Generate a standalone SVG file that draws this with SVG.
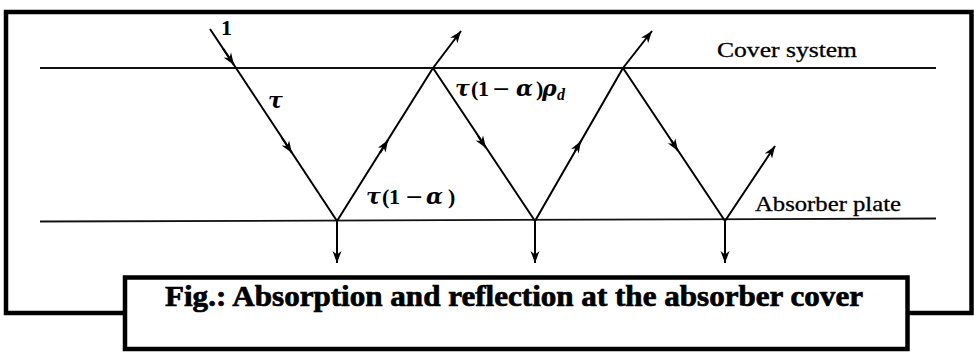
<svg xmlns="http://www.w3.org/2000/svg" width="974" height="353" viewBox="0 0 974 353">
  <style>
    .frame { fill: #fff; stroke: #000; stroke-width: 4.5; }
    .surf { fill: none; stroke: #111; stroke-width: 1.8; }
    .ray { fill: none; stroke: #000; stroke-width: 2; }
    .arr { fill: none; stroke: #000; stroke-width: 2; marker-end: url(#ah); }
    .lbl { font-family: "Liberation Serif", "Times New Roman", serif; fill: #000; stroke: #000; stroke-width: 0.3; }
    .math { font-family: "Liberation Serif", "Times New Roman", serif; fill: #000; font-size: 22px; font-weight: bold; }
    .it { font-style: italic; }
    .gk { font-family: "DejaVu Serif", "Liberation Serif", serif; font-style: italic; font-size: 22px; }
    .mn { font-family: "DejaVu Serif", "Liberation Serif", serif; font-style: normal; font-weight: normal; }
    .cap { font-family: "Liberation Serif", "Times New Roman", serif; font-weight: bold; font-size: 29px; fill: #000; stroke: #000; stroke-width: 0.7; }
  </style>
  <defs>
    <marker id="ah" viewBox="-13 -6 14 12" refX="0" refY="0" markerWidth="14" markerHeight="12" markerUnits="userSpaceOnUse" orient="auto">
      <path d="M0,0 L-12,-4.5 L-8.5,0 L-12,4.5 Z" fill="#000"/>
    </marker>
  </defs>
  <rect width="974" height="353" fill="#fff"/>

  <g id="outer-frame">
    <rect class="frame" x="6" y="12" width="965.5" height="301"/>
  </g>

  <g id="cover-system">
    <line class="surf" x1="40" y1="68" x2="936" y2="68"/>
    <text class="lbl" x="717" y="57" font-size="21" textLength="140" lengthAdjust="spacingAndGlyphs">Cover system</text>
  </g>

  <g id="absorber-plate">
    <path class="surf" d="M40,221.5 L936,218.5"/>
    <text class="lbl" x="755" y="211" font-size="21" textLength="146" lengthAdjust="spacingAndGlyphs">Absorber plate</text>
  </g>

  <g id="connectors">
    <line class="ray" x1="210" y1="29" x2="236" y2="68"/>
    <line class="ray" x1="236" y1="68" x2="337" y2="221"/>
    <line class="ray" x1="337" y1="221" x2="433" y2="68"/>
    <line class="ray" x1="433" y1="68" x2="535" y2="221"/>
    <line class="ray" x1="535" y1="221" x2="623" y2="68"/>
    <line class="ray" x1="623" y1="68" x2="725" y2="221"/>
    <path class="arr" d="M433,68 L461,31"/>
    <path class="arr" d="M623,68 L652,31"/>
    <path class="arr" d="M725,221 L775,146"/>
    <path class="arr" d="M337,221 L337,263"/>
    <path class="arr" d="M535,221 L535,263"/>
    <path class="arr" d="M725,221 L725,263"/>
    <path class="arr" d="M223,48.5 L234,65"/>
    <path class="arr" d="M282,138 L292,153"/>
    <path class="arr" d="M380,153 L388,140"/>
    <path class="arr" d="M478,136 L486,148"/>
    <path class="arr" d="M575,151 L581,141"/>
    <path class="arr" d="M671,140 L678,151"/>
  </g>

  <g id="labels">
    <text class="math" x="221" y="35" font-size="17">1</text>
    <text class="math gk" x="268" y="108">τ</text>
    <text class="math" y="204"><tspan class="gk" x="366">τ</tspan><tspan x="382">(</tspan><tspan x="389">1</tspan><tspan class="mn" x="405">−</tspan><tspan class="gk" x="426">α</tspan><tspan x="448">)</tspan></text>
    <text class="math" y="96" font-size="21"><tspan class="gk" x="455">τ</tspan><tspan x="471">(</tspan><tspan x="478">1</tspan><tspan class="mn" x="492">−</tspan><tspan class="gk" x="516">α</tspan><tspan x="536">)</tspan><tspan class="gk" x="542">ρ</tspan><tspan class="it" x="557" y="100" font-size="16">d</tspan></text>
  </g>

  <g id="caption">
    <rect class="frame" x="125" y="277.5" width="782.5" height="71.5"/>
    <text class="cap" x="165" y="306" textLength="698" lengthAdjust="spacingAndGlyphs">Fig.: Absorption and reflection at the absorber cover</text>
  </g>
</svg>
